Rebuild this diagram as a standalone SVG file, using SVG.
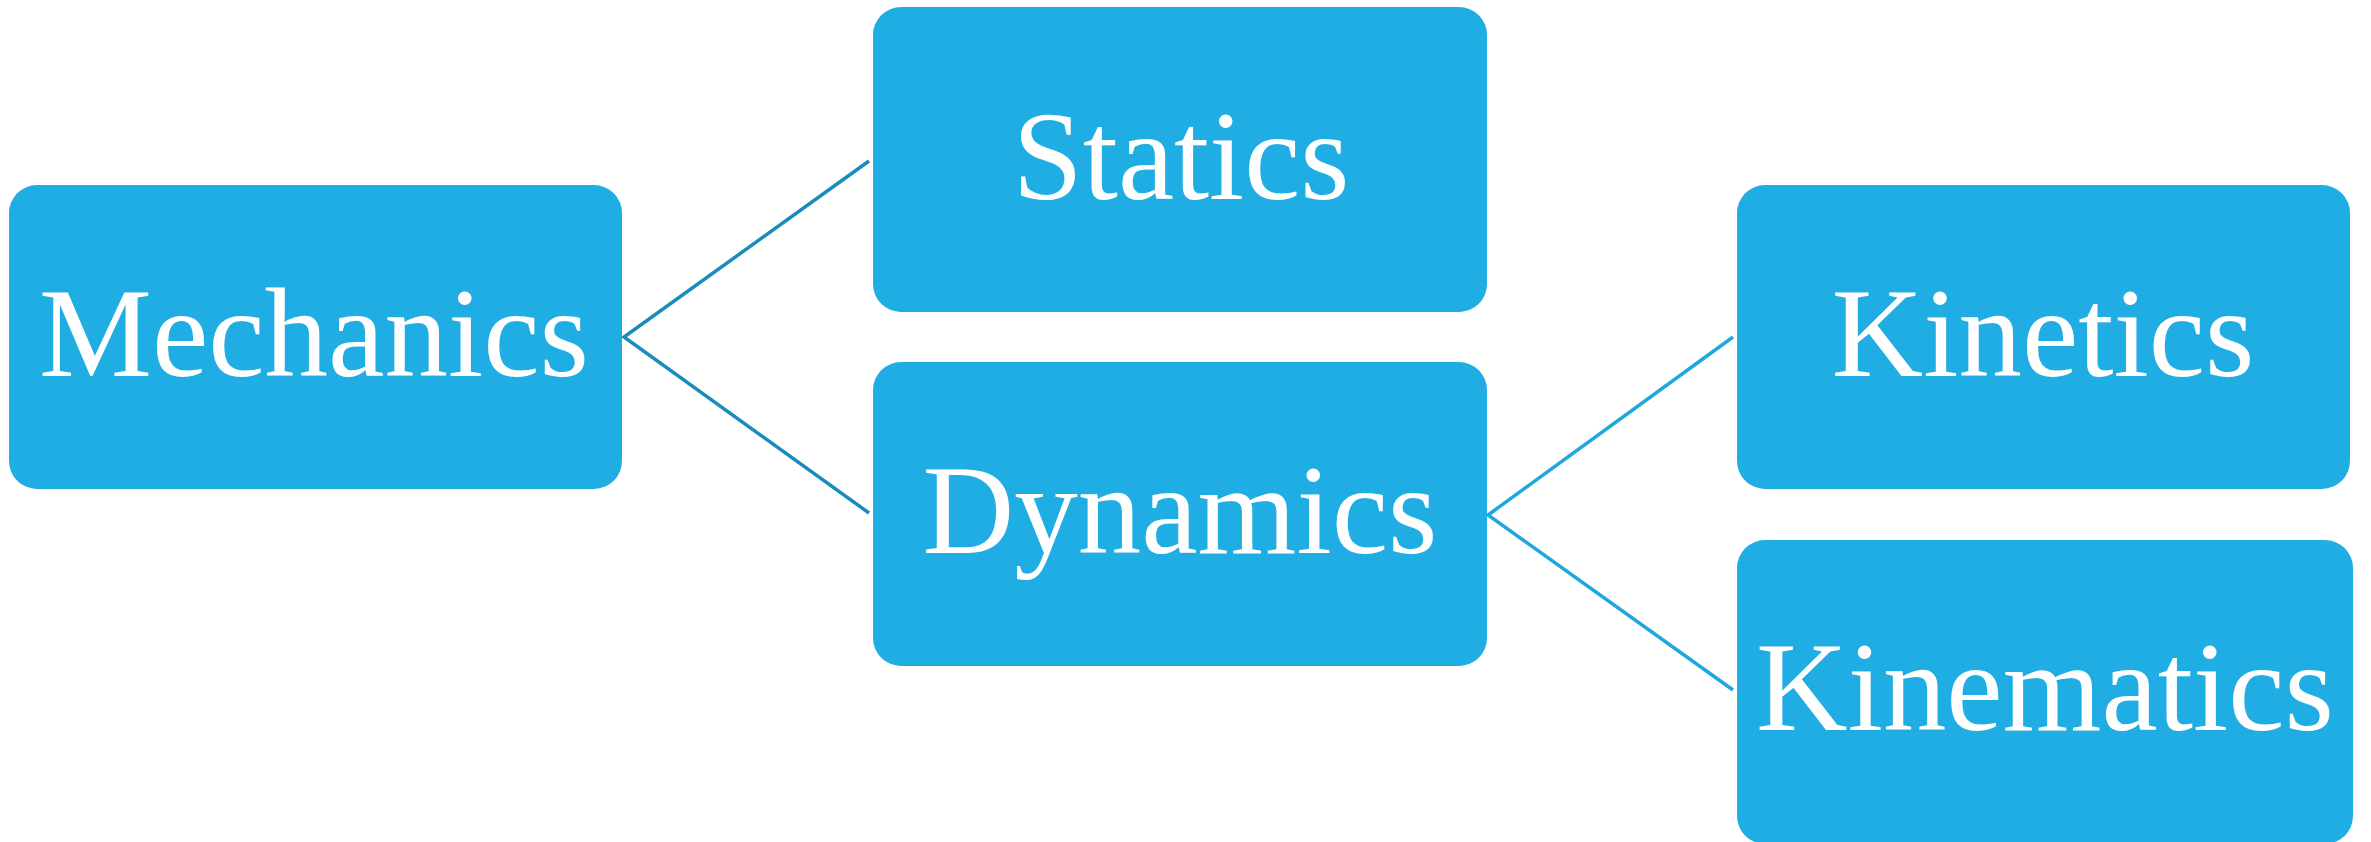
<svg xmlns="http://www.w3.org/2000/svg" width="2371" height="842" viewBox="0 0 2371 842">
  <style>
    .box { fill: #1FADE3; }
    .label { font-family: "Liberation Serif", "Times New Roman", serif; font-size: 127px; fill: #FFFFFF; text-anchor: middle; }
    .c1 { stroke: #1A8CBB; stroke-width: 3.5; fill: none; }
    .c2 { stroke: #1FA8DC; stroke-width: 3.5; fill: none; }
  </style>
  <rect width="2371" height="842" fill="#FFFFFF"/>
  <g id="connectors">
    <polyline class="c1" points="869,161 624,337 869,513"/>
    <polyline class="c2" points="1733,337 1488,515 1733,690"/>
  </g>
  <g id="node-mechanics">
    <rect class="box" x="9" y="185" width="613" height="304" rx="28" ry="28"/>
    <text class="label" x="314" y="376" textLength="550" lengthAdjust="spacingAndGlyphs">Mechanics</text>
  </g>
  <g id="node-statics">
    <rect class="box" x="873" y="7" width="614" height="305" rx="28" ry="28"/>
    <text class="label" x="1181" y="199" textLength="337" lengthAdjust="spacingAndGlyphs">Statics</text>
  </g>
  <g id="node-dynamics">
    <rect class="box" x="873" y="362" width="614" height="304" rx="28" ry="28"/>
    <text class="label" x="1180" y="553" textLength="515" lengthAdjust="spacingAndGlyphs">Dynamics</text>
  </g>
  <g id="node-kinetics">
    <rect class="box" x="1737" y="185" width="613" height="304" rx="28" ry="28"/>
    <text class="label" x="2043" y="376" textLength="423" lengthAdjust="spacingAndGlyphs">Kinetics</text>
  </g>
  <g id="node-kinematics">
    <rect class="box" x="1737" y="540" width="616" height="304" rx="28" ry="28"/>
    <text class="label" x="2045" y="730" textLength="578" lengthAdjust="spacingAndGlyphs">Kinematics</text>
  </g>
</svg>
